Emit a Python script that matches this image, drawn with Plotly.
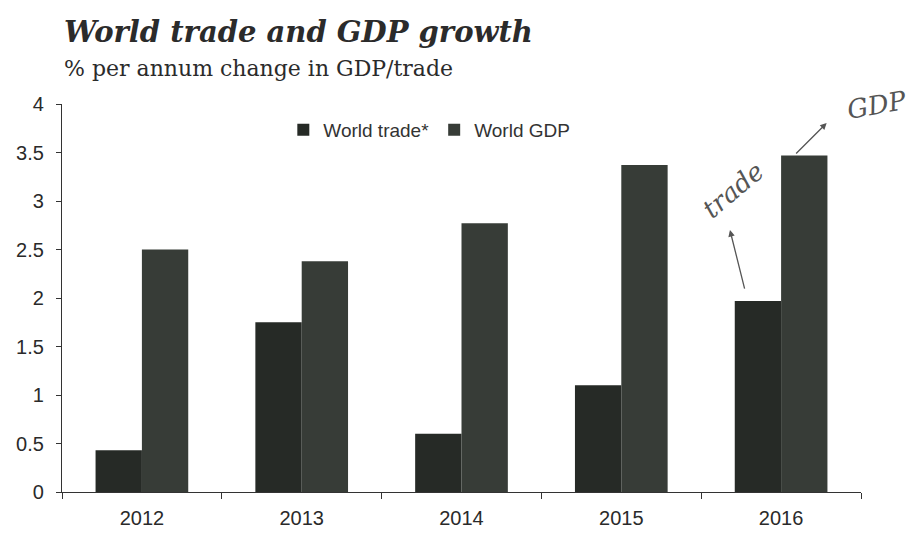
import plotly.graph_objects as go

years = ["2012", "2013", "2014", "2015", "2016"]
world_trade = [0.43, 1.75, 0.60, 1.10, 1.97]
world_gdp = [2.50, 2.38, 2.77, 3.37, 3.47]
y_ticks = [0, 0.5, 1, 1.5, 2, 2.5, 3, 3.5, 4]
y_tick_labels = ["0", "0.5", "1", "1.5", "2", "2.5", "3", "3.5", "4"]

fig = go.Figure()
fig.add_trace(go.Bar(x=years, y=world_trade, name="World trade*",
                     marker=dict(color="#262a26", line=dict(width=0))))
fig.add_trace(go.Bar(x=years, y=world_gdp, name="World GDP",
                     marker=dict(color="#373c37", line=dict(width=0))))

fig.update_layout(
    width=919, height=535,
    margin=dict(l=54, r=66, t=96, b=51),
    paper_bgcolor="white", plot_bgcolor="white",
    barmode="group", bargap=0.42, bargroupgap=0,
    font=dict(family="Liberation Sans, Arial", color="#2a2a2a"),
    showlegend=True,
    legend=dict(orientation="h", x=0.277, y=0.933, xanchor="left", yanchor="middle",
                font=dict(size=19, color="#333"), itemwidth=30, bgcolor="rgba(0,0,0,0)"),
    xaxis=dict(showline=True, linecolor="#333", linewidth=1.2, ticks="outside",
               tickson="boundaries", ticklen=6, tickcolor="#333", ticklabelstandoff=8,
               tickfont=dict(size=20, color="#2a2a2a"), showgrid=False, automargin=False),
    yaxis=dict(range=[0, 4], tickvals=y_ticks, ticktext=y_tick_labels,
               showline=True, linecolor="#333", linewidth=1.2, ticks="outside",
               ticklen=5, tickcolor="#333", ticklabelstandoff=8,
               tickfont=dict(size=20, color="#2a2a2a"),
               showgrid=False, zeroline=False, automargin=False),
)

fig.add_annotation(text="<b><i>World trade and GDP growth</i></b>", xref="paper", yref="paper",
                   x=0, y=1.0, xanchor="left", yanchor="middle", yshift=72,
                   showarrow=False, font=dict(family="DejaVu Serif", size=29, color="#2b2b2b"))
fig.add_annotation(text="% per annum change in GDP/trade", xref="paper", yref="paper",
                   x=0, y=1.0, xanchor="left", yanchor="middle", yshift=36,
                   showarrow=False, font=dict(family="DejaVu Serif", size=22, color="#2b2b2b"))

# handwritten annotations
fig.add_annotation(text="<i>trade</i>", xref="paper", yref="paper", x=0.84, y=0.778,
                   xanchor="center", yanchor="middle",
                   showarrow=False, textangle=-40,
                   font=dict(family="DejaVu Serif", size=26, color="#555"))
fig.add_annotation(x=0.836, y=0.675, xref="paper", yref="paper", ax=15, ay=60,
                   showarrow=True, arrowhead=2, arrowsize=1,
                   arrowwidth=1.3, arrowcolor="#555", text="")
fig.add_annotation(x=0.957, y=0.951, xref="paper", yref="paper", ax=-32, ay=32,
                   showarrow=True, arrowhead=2, arrowsize=1,
                   arrowwidth=1.3, arrowcolor="#555", text="")
fig.add_annotation(text="<i>GDP</i>", xref="paper", yref="paper", x=1.02, y=0.997,
                   xanchor="center", yanchor="middle",
                   showarrow=False, textangle=-10,
                   font=dict(family="DejaVu Serif", size=26, color="#555"))

fig.write_html("out.html")
